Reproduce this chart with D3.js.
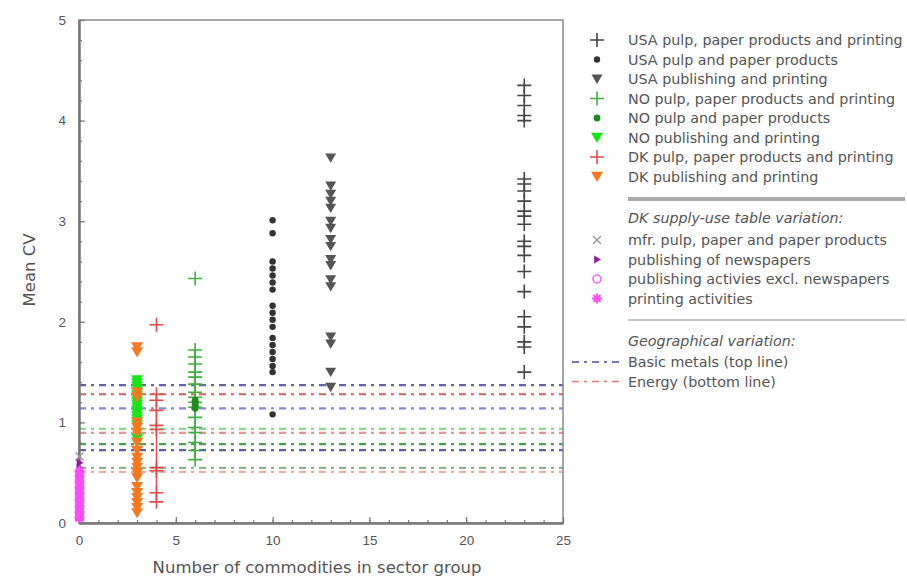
<!DOCTYPE html>
<html>
<head>
<meta charset="utf-8">
<script src="https://cdn.jsdelivr.net/npm/d3@7"></script>
<style>
  html, body { margin: 0; padding: 0; background: #fff; }
  svg text { font-family: "DejaVu Sans", "Liberation Sans", Arial, sans-serif; fill: #555; }
</style>
</head>
<body>
<svg id="chart" width="907" height="577"></svg>
<script>
// ---------------- DATA ----------------
const xTicks = [0, 5, 10, 15, 20, 25];
const yTicks = [0, 1, 2, 3, 4, 5];

// x position (number of commodities) of each series
const seriesNames = [
  "USA pulp, paper products and printing",
  "USA pulp and paper products",
  "USA publishing and printing",
  "NO pulp, paper products and printing",
  "NO pulp and paper products",
  "NO publishing and printing",
  "DK pulp, paper products and printing",
  "DK publishing and printing"
];
const seriesX = [23, 10, 13, 6, 6, 3, 4, 3];

const usaPulpPrint = [4.35, 4.25, 4.15, 4.05, 4.0, 3.42, 3.37, 3.3, 3.2, 3.1, 3.05, 2.97, 2.8, 2.75, 2.66, 2.5, 2.3, 2.05, 1.95, 1.8, 1.75, 1.5];
const usaPulpPaper = [3.01, 2.88, 2.6, 2.53, 2.46, 2.39, 2.32, 2.16, 2.09, 2.02, 1.95, 1.84, 1.77, 1.7, 1.63, 1.56, 1.5, 1.08];
const usaPublishing = [3.63, 3.35, 3.27, 3.2, 3.13, 3.0, 2.93, 2.82, 2.75, 2.62, 2.56, 2.42, 2.35, 1.85, 1.78, 1.5, 1.35];
const noPulpPrint = [2.43, 1.72, 1.65, 1.58, 1.5, 1.45, 1.38, 1.3, 1.25, 1.2, 1.15, 1.05, 0.95, 0.9, 0.8, 0.72, 0.63];
const noPulpPaper = [1.22, 1.2, 1.18, 1.16, 1.14];
const noPublishing = [1.42, 1.39, 1.36, 1.33, 1.3, 1.27, 1.24, 1.21, 1.18, 1.15, 1.12, 1.09, 1.06, 1.03, 1.0, 0.97, 0.9, 0.84, 0.8];
const dkPulpPrint = [1.97, 1.28, 1.22, 1.12, 0.97, 0.93, 0.55, 0.52, 0.3, 0.21];
const dkPublishing = [1.75, 1.7, 1.3, 1.25, 1.0, 0.95, 0.9, 0.8, 0.72, 0.65, 0.6, 0.55, 0.5, 0.45, 0.36, 0.3, 0.25, 0.2, 0.15, 0.1];

// DK supply-use table variation (all at x = 0)
const suNames = ["mfr. pulp, paper and paper products", "publishing of newspapers", "publishing activies excl. newspapers", "printing activities"];
const suMfr = [0.66];
const suNewspapers = [0.6, 0.55];
const suPublishing = [0.5, 0.44, 0.38, 0.32, 0.26, 0.2, 0.14, 0.08];
const suPrinting = [0.52, 0.47, 0.41, 0.35, 0.29, 0.23, 0.17, 0.11, 0.05];

// Geographical variation: horizontal reference lines
const geoValues = [1.37, 1.28, 1.14, 0.935, 0.895, 0.785, 0.725, 0.548, 0.508];
const geoColors = ["#3b3f9a", "#cc3a3a", "#6a6ad8", "#6cd46c", "#e07a7a", "#238a23", "#3339a8", "#68a868", "#e79a8a"];

// ---------------- LAYOUT ----------------
const svg = d3.select("#chart");
const margin = { left: 79, right: 563, top: 20, bottom: 523 };
const x = d3.scaleLinear().domain([0, 25]).range([margin.left, margin.right]);
const y = d3.scaleLinear().domain([0, 5]).range([margin.bottom, margin.top]);

// horizontal dashed lines (behind points)
svg.append("g").selectAll("line").data(geoValues).join("line")
  .attr("x1", x(0)).attr("x2", x(25))
  .attr("y1", d => y(d)).attr("y2", d => y(d))
  .attr("stroke", (d, i) => geoColors[i])
  .attr("stroke-width", 2.2)
  .attr("stroke-dasharray", "7,5,3,5")
  .attr("opacity", 0.8);

// frame
svg.append("rect")
  .attr("x", x(0)).attr("y", y(5))
  .attr("width", x(25) - x(0)).attr("height", y(0) - y(5))
  .attr("fill", "none").attr("stroke", "#8a8a8a").attr("stroke-width", 1.5);

// axes
const yAxis = d3.axisLeft(y).tickValues(yTicks).tickFormat(d3.format("d")).tickSizeInner(-6).tickSizeOuter(0).tickPadding(13);
const gy = svg.append("g").attr("transform", `translate(${x(0)},0)`).call(yAxis);
const yMinor = d3.axisLeft(y).tickValues(d3.range(0, 5.01, 0.2)).tickFormat("").tickSizeInner(-3).tickSizeOuter(0);
const gym = svg.append("g").attr("transform", `translate(${x(0)},0)`).call(yMinor);
const xAxis = d3.axisBottom(x).tickValues(xTicks).tickFormat(d3.format("d")).tickSizeInner(-6).tickSizeOuter(0).tickPadding(12);
const gx = svg.append("g").attr("transform", `translate(0,${y(0)})`).call(xAxis);
const xMinor = d3.axisBottom(x).tickValues(d3.range(0, 25.01, 1)).tickFormat("").tickSizeInner(-3).tickSizeOuter(0);
const gxm = svg.append("g").attr("transform", `translate(0,${y(0)})`).call(xMinor);
[gy, gym, gx, gxm].forEach(g => {
  g.select(".domain").attr("stroke", "#777").attr("stroke-width", 2);
  g.selectAll(".tick line").attr("stroke", "#777").attr("stroke-width", 1.2);
  g.selectAll(".tick text").attr("font-size", 13.5).style("fill", "#555")
    .style("font-family", "'Liberation Sans', Arial, sans-serif");
});

// axis titles
svg.append("text").attr("x", 317).attr("y", 573).attr("text-anchor", "middle")
  .attr("font-size", 16.5).text("Number of commodities in sector group");
svg.append("text").attr("transform", "translate(35,270) rotate(-90)").attr("text-anchor", "middle")
  .attr("font-size", 16.5).text("Mean CV");

// ---------------- MARKERS ----------------
const plusPath = s => `M${-s},0H${s}M0,${-s}V${s}`;
const triDown = s => `M${-s},${-s * 0.8}H${s}L0,${s * 0.9}Z`;
const triRight = s => `M${-s * 0.7},${-s}L${s},0L${-s * 0.7},${s}Z`;
const xPath = s => `M${-s},${-s}L${s},${s}M${-s},${s}L${s},${-s}`;
const starPath = s => `M${-s},0H${s}M0,${-s}V${s}M${-s * 0.7},${-s * 0.7}L${s * 0.7},${s * 0.7}M${-s * 0.7},${s * 0.7}L${s * 0.7},${-s * 0.7}`;

const styles = [
  { kind: "plus", color: "#444", size: 7, width: 1.6 },
  { kind: "dot", color: "#333", size: 3.2 },
  { kind: "tri", color: "#555", size: 5.5 },
  { kind: "plus", color: "#3fae3f", size: 7, width: 1.6 },
  { kind: "dot", color: "#1f8a1f", size: 3.4 },
  { kind: "tri", color: "#16e616", size: 6 },
  { kind: "plus", color: "#ec4a4a", size: 7, width: 1.6 },
  { kind: "tri", color: "#f7781e", size: 6 }
];
const seriesData = [usaPulpPrint, usaPulpPaper, usaPublishing, noPulpPrint, noPulpPaper, noPublishing, dkPulpPrint, dkPublishing];

function drawMarker(g, st) {
  if (st.kind === "plus") {
    g.append("path").attr("d", plusPath(st.size)).attr("stroke", st.color).attr("stroke-width", st.width).attr("fill", "none");
  } else if (st.kind === "dot") {
    g.append("circle").attr("r", st.size).attr("fill", st.color);
  } else if (st.kind === "tri") {
    g.append("path").attr("d", triDown(st.size)).attr("fill", st.color);
  } else if (st.kind === "x") {
    g.append("path").attr("d", xPath(st.size)).attr("stroke", st.color).attr("stroke-width", st.width).attr("fill", "none");
  } else if (st.kind === "triR") {
    g.append("path").attr("d", triRight(st.size)).attr("fill", st.color);
  } else if (st.kind === "circle") {
    g.append("circle").attr("r", st.size).attr("fill", "none").attr("stroke", st.color).attr("stroke-width", st.width);
  } else if (st.kind === "star") {
    g.append("path").attr("d", starPath(st.size)).attr("stroke", st.color).attr("stroke-width", st.width).attr("fill", "none");
  }
}

// vertical connecting strokes for the dense NO / DK plus columns
[3, 6].forEach(i => {
  const vals = seriesData[i];
  svg.append("line").attr("x1", x(seriesX[i])).attr("x2", x(seriesX[i]))
    .attr("y1", y(d3.max(vals.filter(v => v < 1.9)))).attr("y2", y(d3.min(vals)))
    .attr("stroke", styles[i].color).attr("stroke-width", 1.4);
});

seriesData.forEach((vals, i) => {
  const st = styles[i];
  svg.append("g").selectAll("g").data(vals).join("g")
    .attr("transform", d => `translate(${x(seriesX[i])},${y(d)})`)
    .each(function () { drawMarker(d3.select(this), st); });
});

// supply-use variation at x = 0
const suStyles = [
  { kind: "x", color: "#a08aa8", size: 4, width: 1.4 },
  { kind: "triR", color: "#8e1a9e", size: 4 },
  { kind: "circle", color: "#e86ee8", size: 4, width: 1.6 },
  { kind: "star", color: "#ff4cff", size: 5, width: 2 }
];
const suData = [suMfr, suNewspapers, suPublishing, suPrinting];
// solid magenta column underneath the printing/publishing markers
svg.append("rect").attr("x", x(0) - 4).attr("y", y(0.53)).attr("width", 9).attr("height", y(0.02) - y(0.53))
  .attr("fill", "#e447e4");
suData.forEach((vals, i) => {
  const st = suStyles[i];
  svg.append("g").selectAll("g").data(vals).join("g")
    .attr("transform", d => `translate(${x(0) + 0.5},${y(d)})`)
    .each(function () { drawMarker(d3.select(this), st); });
});

// ---------------- LEGEND ----------------
const lg = svg.append("g");
const legX = 597, textX = 628, fs = 14.3;
seriesNames.forEach((name, i) => {
  const yy = 40 + i * 19.5;
  const g = lg.append("g").attr("transform", `translate(${legX},${yy})`);
  drawMarker(g, styles[i]);
  lg.append("text").attr("x", textX).attr("y", yy + 5).attr("font-size", fs).text(name);
});
lg.append("line").attr("x1", textX).attr("x2", 905).attr("y1", 199).attr("y2", 199)
  .attr("stroke", "#aaa").attr("stroke-width", 4);
lg.append("text").attr("x", textX).attr("y", 223).attr("font-size", fs).attr("font-style", "italic")
  .text("DK supply-use table variation:");
suNames.forEach((name, i) => {
  const yy = 240 + i * 19.5;
  const g = lg.append("g").attr("transform", `translate(${legX},${yy})`);
  drawMarker(g, suStyles[i]);
  lg.append("text").attr("x", textX).attr("y", yy + 5).attr("font-size", fs).text(name);
});
lg.append("line").attr("x1", textX).attr("x2", 905).attr("y1", 320).attr("y2", 320)
  .attr("stroke", "#888").attr("stroke-width", 1.2);
lg.append("text").attr("x", textX).attr("y", 346).attr("font-size", fs).attr("font-style", "italic")
  .text("Geographical variation:");
const geoLegend = [
  { name: "Basic metals (top line)", color: "#4a4a9a" },
  { name: "Energy (bottom line)", color: "#e07a7a" }
];
geoLegend.forEach((d, i) => {
  const yy = 362 + i * 19.5;
  lg.append("line").attr("x1", 572).attr("x2", 620).attr("y1", yy).attr("y2", yy)
    .attr("stroke", d.color).attr("stroke-width", 1.6).attr("stroke-dasharray", "7,5,3,5");
  lg.append("text").attr("x", textX).attr("y", yy + 5).attr("font-size", fs).text(d.name);
});
</script>
</body>
</html>
